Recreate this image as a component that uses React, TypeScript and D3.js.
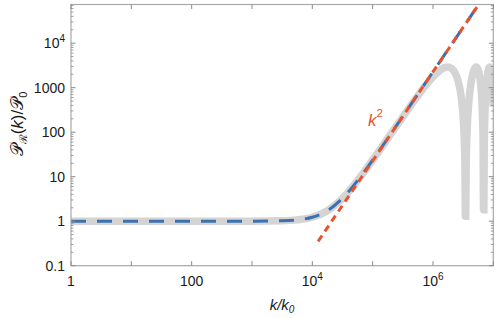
import React from "react";
import * as d3 from "d3";

// ---- data ----
// x values are given as log10(k/k0)
const grayLogK = [0, 1, 2, 3, 3.5, 3.75, 4, 4.25, 4.5, 4.75, 5, 5.25, 5.5, 5.75, 5.9, 6.0, 6.1, 6.19, 6.239, 6.29, 6.34, 6.39, 6.44, 6.465, 6.49, 6.51, 6.53, 6.537, 6.543, 6.55, 6.57, 6.59, 6.615, 6.64, 6.69, 6.716, 6.74, 6.765, 6.79, 6.805, 6.82, 6.83, 6.838, 6.844, 6.85, 6.87, 6.89, 6.91, 6.938, 6.965, 6.99, 7.0];
const grayP = [1, 1, 1, 1.002, 1.023, 1.072, 1.227, 1.718, 3.27, 8.18, 23.65, 72.2, 222, 662, 1213, 1738, 2337, 2820, 2901, 2791, 2440, 1833, 1054, 668, 326, 128, 16.5, 1.3, 1.3, 15.8, 143, 403, 900, 1526, 2685, 2901, 2703, 2087, 1198, 675, 255, 75.2, 1.8, 1.8, 48.1, 505, 1338, 2250, 2901, 2234, 859, 376];

const blueLogK = [0, 1, 2, 3, 3.5, 3.75, 4, 4.25, 4.5, 4.75, 5, 5.25, 5.5, 5.75, 6, 6.25, 6.5, 6.75, 7];
const blueP = [1, 1, 1, 1.002, 1.023, 1.072, 1.227, 1.717, 3.268, 8.171, 23.68, 72.71, 227.8, 718.1, 2268.6, 7171, 22676, 71707, 226757];

const redLogK = [4.096, 7];
const redP = [0.353, 226757];

const xTicks = [1, 100, 1e4, 1e6];
const xTickLabels = [["1", ""], ["100", ""], ["10", "4"], ["10", "6"]];
const yTicks = [0.1, 1, 10, 100, 1000, 1e4];
const yTickLabels = [["0.1", ""], ["1", ""], ["10", ""], ["100", ""], ["1000", ""], ["10", "4"]];

const X_DOMAIN = [1, 1e7];
const Y_DOMAIN = [0.1, 7.4e4];

export default function App() {
  const W = 498, H = 318;
  const L = 71, R = 493.3, T = 4.5, B = 265.7;
  const x = d3.scaleLog().domain(X_DOMAIN).range([L, R]);
  const y = d3.scaleLog().domain(Y_DOMAIN).range([B, T]);

  const mk = (lk: number[], p: number[]) => {
    const pts: [number, number][] = lk.map((v, i) => [x(Math.pow(10, v)), y(p[i])]);
    return d3.line().curve(d3.curveMonotoneX)(pts) || "";
  };
  const grayPath = mk(grayLogK, grayP);
  const bluePath = mk(blueLogK, blueP);
  const redPath = d3.line()(redLogK.map((v, i) => [x(Math.pow(10, v)), y(redP[i])] as [number, number])) || "";

  const xMajor = d3.range(0, 8).map((e) => Math.pow(10, e));
  const yMinor: number[] = [];
  for (let e = -1; e <= 4; e++) {
    for (let m = 2; m <= 9; m++) {
      const v = m * Math.pow(10, e);
      if (v < Y_DOMAIN[1]) yMinor.push(v);
    }
  }
  const yMajor = [0.1, 1, 10, 100, 1000, 1e4];
  const tickCol = "#8a8a8a";
  const font = "'Liberation Sans', Arial, sans-serif";

  return (
    <svg width={W} height={H} style={{ position: "absolute", left: 0, top: 0, background: "#fff" }} fontFamily={font}>
      <defs>
        <clipPath id="plotclip">
          <rect x={L} y={T} width={R - L} height={B - T} />
        </clipPath>
      </defs>
      <g clipPath="url(#plotclip)">
        <path d={grayPath} fill="none" stroke="#d4d4d4" strokeWidth={7.5} strokeLinejoin="miter" />
        <path d={bluePath} fill="none" stroke="#3b71b0" strokeWidth={3} strokeDasharray="15 11" />
        <path d={redPath} fill="none" stroke="#e8532e" strokeWidth={3} strokeDasharray="7 5" />
      </g>
      {/* frame */}
      <rect x={L} y={T} width={R - L} height={B - T} fill="none" stroke="#a8a8a8" strokeWidth={1.2} />
      {/* x ticks bottom & top */}
      {xMajor.map((v, i) => (
        <g key={"xt" + i}>
          <line x1={x(v)} x2={x(v)} y1={B} y2={B - 4.5} stroke={tickCol} strokeWidth={1} />
          <line x1={x(v)} x2={x(v)} y1={T} y2={T + 4.5} stroke={tickCol} strokeWidth={1} />
        </g>
      ))}
      {/* y ticks left & right */}
      {yMajor.map((v, i) => (
        <g key={"ym" + i}>
          <line x1={L} x2={L + 4.5} y1={y(v)} y2={y(v)} stroke={tickCol} strokeWidth={1} />
          <line x1={R} x2={R - 4.5} y1={y(v)} y2={y(v)} stroke={tickCol} strokeWidth={1} />
        </g>
      ))}
      {yMinor.map((v, i) => (
        <g key={"yn" + i}>
          <line x1={L} x2={L + 2.5} y1={y(v)} y2={y(v)} stroke={tickCol} strokeWidth={0.8} />
          <line x1={R} x2={R - 2.5} y1={y(v)} y2={y(v)} stroke={tickCol} strokeWidth={0.8} />
        </g>
      ))}
      {/* x tick labels */}
      {xTicks.map((v, i) => (
        <text key={"xl" + i} x={x(v)} y={286} textAnchor="middle" fontSize={14} fill="#1a1a1a">
          {xTickLabels[i][0]}
          {xTickLabels[i][1] && (
            <tspan dy={-6} fontSize={10}>{xTickLabels[i][1]}</tspan>
          )}
        </text>
      ))}
      {/* y tick labels */}
      {yTicks.map((v, i) => (
        <text key={"yl" + i} x={65} y={y(v) + 5} textAnchor="end" fontSize={14} fill="#1a1a1a">
          {yTickLabels[i][0]}
          {yTickLabels[i][1] && (
            <tspan dy={-6} fontSize={10}>{yTickLabels[i][1]}</tspan>
          )}
        </text>
      ))}
      {/* axis labels */}
      <text x={282} y={310} textAnchor="middle" fontSize={15} fontStyle="italic" fill="#1a1a1a">
        k/k<tspan dy={3} fontSize={10}>0</tspan>
      </text>
      <text transform="translate(23,124) rotate(-90)" textAnchor="middle" fontSize={17} fill="#1a1a1a">
        𝒫<tspan dy={4} fontSize={11}>ℛ</tspan>
        <tspan dy={-4}>(</tspan>
        <tspan fontStyle="italic">k</tspan>)/𝒫<tspan dy={4} fontSize={11}>0</tspan>
      </text>
      {/* k^2 annotation */}
      <text x={368} y={126} fontSize={17} fill="#e8532e" fontStyle="italic">
        k<tspan dy={-9} fontSize={11.5} fontStyle="normal">2</tspan>
      </text>
    </svg>
  );
}
